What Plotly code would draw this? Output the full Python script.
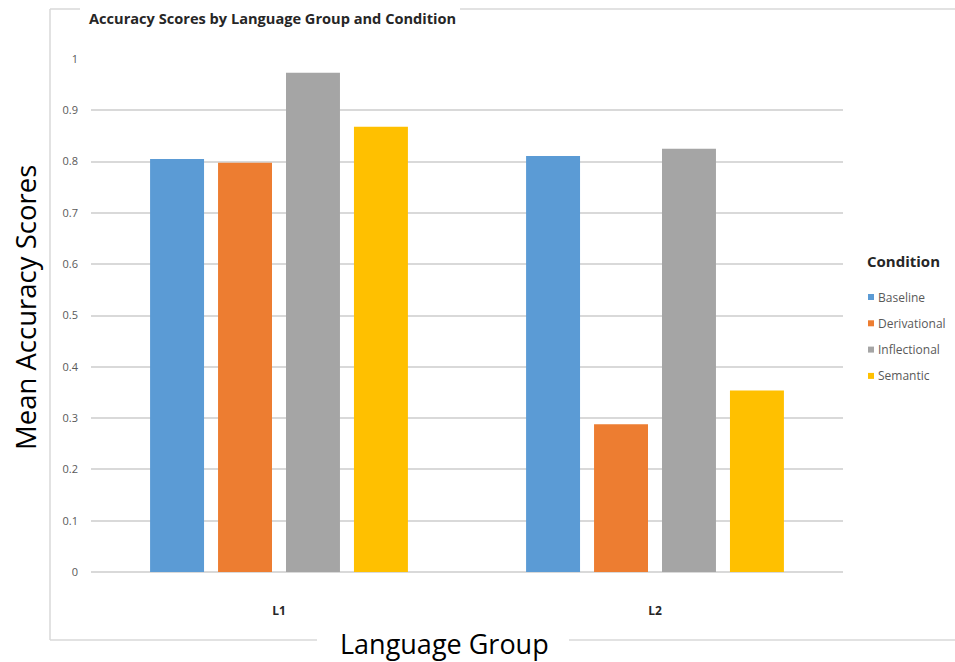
import plotly.graph_objects as go

# ---- data ----
groups = ["L1", "L2"]
conditions = ["Baseline", "Derivational", "Inflectional", "Semantic"]
baseline = [0.805, 0.811]
derivational = [0.798, 0.288]
inflectional = [0.973, 0.825]
semantic = [0.868, 0.354]
y_ticks = [0, 0.1, 0.2, 0.3, 0.4, 0.5, 0.6, 0.7, 0.8, 0.9, 1]
y_tick_labels = ["0", "0.1", "0.2", "0.3", "0.4", "0.5", "0.6", "0.7", "0.8", "0.9", "1"]

series = [baseline, derivational, inflectional, semantic]
colors = ["#5B9BD5", "#ED7D31", "#A5A5A5", "#FFC000"]

W, H = 955, 662
L, R, T, B = 91, 112, 59, 90
pw = W - L - R
ph = H - T - B

def px(x):
    return (x - L) / pw

def py(y):
    return (H - B - y) / ph

FONT = "Open Sans"

fig = go.Figure()
for name, vals, col in zip(conditions, series, colors):
    fig.add_trace(go.Bar(x=groups, y=vals, name=name, marker=dict(color=col, line=dict(width=0)),
                         showlegend=False))

shapes = []
border_col = "#D9D9D9"
# chart-area border, with gaps for title and x-axis title
segs = [
    (50, 9, 80, 9), (460, 9, 960, 9),        # top
    (50, 9, 50, 640),                       # left
    (50, 640, 317, 640), (569, 640, 960, 640),  # bottom
]
for x0, y0, x1, y1 in segs:
    shapes.append(dict(type="line", xref="paper", yref="paper",
                       x0=px(x0), y0=py(y0), x1=px(x1), y1=py(y1),
                       line=dict(color=border_col, width=1.5), layer="below"))

annotations = [
    dict(text="<b>Accuracy Scores by Language Group and Condition</b>", xref="paper", yref="paper",
         x=px(87), y=py(18), xanchor="left", yanchor="middle", showarrow=False,
         font=dict(family=FONT, size=14.6, color="#262626")),
    dict(text="Mean Accuracy Scores", xref="paper", yref="paper", textangle=-90,
         x=px(25), y=py(308), xanchor="center", yanchor="middle", showarrow=False,
         font=dict(family=FONT, size=27.5, color="#000000")),
    dict(text="Language Group", xref="paper", yref="paper",
         x=px(444), y=py(643), xanchor="center", yanchor="middle", showarrow=False,
         font=dict(family=FONT, size=27, color="#000000")),
    dict(text="<b>Condition</b>", xref="paper", yref="paper",
         x=px(865), y=py(261), xanchor="left", yanchor="middle", showarrow=False,
         font=dict(family=FONT, size=15, color="#262626")),
]

# custom legend
for i, (name, col) in enumerate(zip(conditions, colors)):
    yc = 297 + i * 26.3
    shapes.append(dict(type="rect", xref="paper", yref="paper",
                       x0=px(868), x1=px(874), y0=py(yc - 3), y1=py(yc + 3),
                       fillcolor=col, line=dict(width=0)))
    annotations.append(dict(text=name, xref="paper", yref="paper",
                            x=px(876), y=py(yc), xanchor="left", yanchor="middle", showarrow=False,
                            font=dict(family=FONT, size=12, color="#595959")))

fig.update_layout(
    width=W, height=H,
    margin=dict(l=L, r=R, t=T, b=B, pad=0),
    paper_bgcolor="white", plot_bgcolor="white",
    barmode="group", bargap=0.277, bargroupgap=0.206,
    showlegend=False,
    shapes=shapes, annotations=annotations,
    xaxis=dict(showgrid=False, showline=False, zeroline=False, ticks="",
               tickfont=dict(family=FONT, size=12, color="#262626"),
               ticktext=["<b>L1</b>", "<b>L2</b>"], tickvals=groups, tickmode="array",
               ticklabelstandoff=30),
    yaxis=dict(range=[0, 1], tickvals=y_ticks, ticktext=y_tick_labels, tickmode="array",
               showgrid=True, gridcolor="#D9D9D9", gridwidth=1.5,
               zeroline=True, zerolinecolor="#D9D9D9", zerolinewidth=1.5,
               showline=False, ticks="", ticklabelstandoff=12,
               tickfont=dict(family=FONT, size=11, color="#595959")),
)

fig.write_html("out.html")
